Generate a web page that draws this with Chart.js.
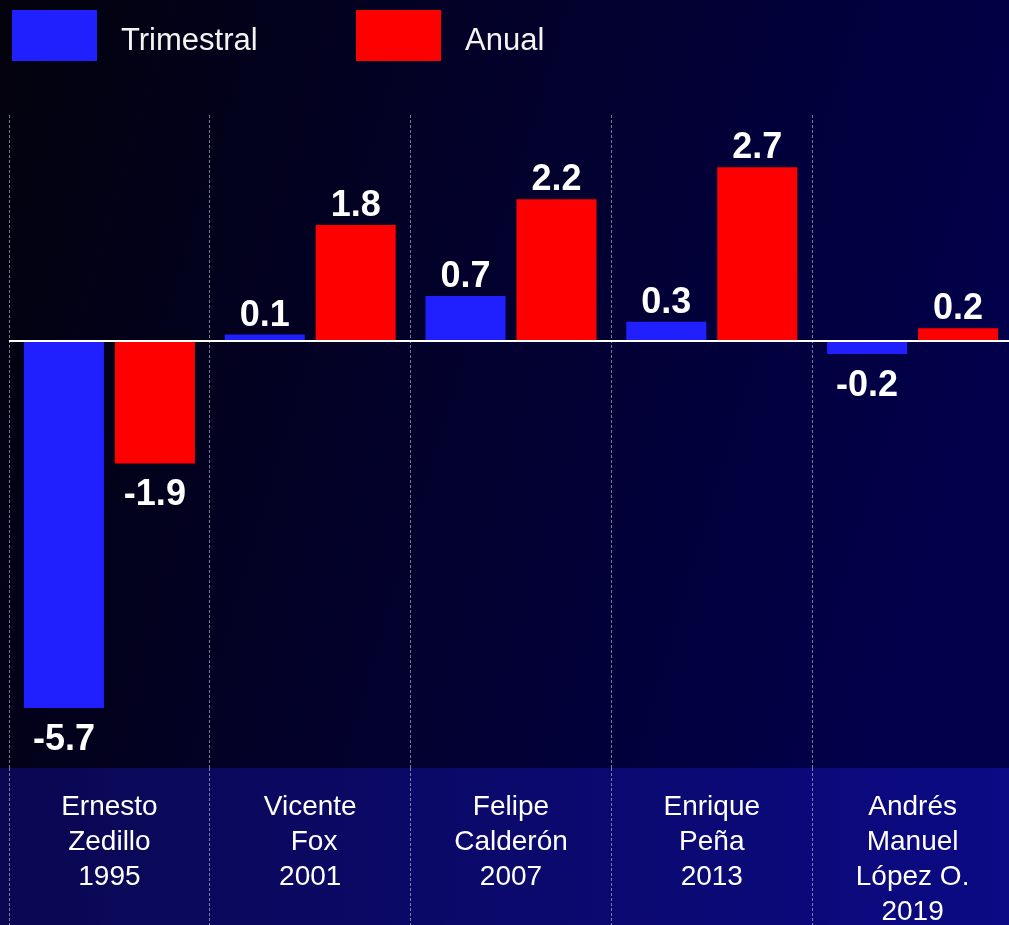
<!DOCTYPE html>
<html>
<head>
<meta charset="utf-8">
<script src="https://cdn.jsdelivr.net/npm/chart.js@4.4.1/dist/chart.umd.min.js"></script>
<style>
    html, body { margin: 0; padding: 0; overflow: hidden; background: #000010; }
    #wrap { width: 1020px; height: 925px; }
</style>
</head>
<body>
<div id="wrap"><canvas id="pib-chart" width="1020" height="925"></canvas></div>
<script>
/*********************************************************************/
/*************************  Datos  ***********************************/
/*********************************************************************/
var presidentes = [
    ['Ernesto', 'Zedillo', '1995'],
    ['Vicente', ' Fox', '2001'],
    ['Felipe', 'Calderón', '2007'],
    ['Enrique', 'Peña', '2013'],
    ['Andrés', 'Manuel', 'López O.', '2019']
];
var trimestral = [-5.7, 0.1, 0.7, 0.3, -0.2];
var anual = [-1.9, 1.8, 2.2, 2.7, 0.2];
var nombresSeries = ['Trimestral', 'Anual'];

var AZUL = '#2020ff', ROJO = '#ff0000';
var FUENTE = "'Liberation Sans', Arial, sans-serif";
var GRIS = 'rgba(200, 200, 215, 0.6)';

// Fondo degradado + franja de categorias
var fondoPlugin = {
    id: 'fondo',
    beforeDraw: function(chart) {
        var ctx = chart.ctx, w = chart.width, h = chart.height;
        ctx.save();
        var g = ctx.createLinearGradient(0, 0, 1009, 300);
        g.addColorStop(0, '#03020c');
        g.addColorStop(1, '#02004a');
        ctx.fillStyle = g;
        ctx.fillRect(0, 0, w, h);
        var top = chart.chartArea.bottom;
        var g2 = ctx.createLinearGradient(0, 0, 1009, 0);
        g2.addColorStop(0, '#0a0852');
        g2.addColorStop(1, '#0c0a84');
        ctx.fillStyle = g2;
        ctx.fillRect(0, top, w, h - top);
        ctx.restore();
    }
};

// Leyenda dibujada a mano (cajas grandes)
var leyendaPlugin = {
    id: 'leyenda',
    afterDraw: function(chart) {
        var ctx = chart.ctx;
        var cajas = [12, 356];
        ctx.save();
        ctx.font = '31px ' + FUENTE;
        ctx.textBaseline = 'alphabetic';
        chart.data.datasets.forEach(function(ds, i) {
            ctx.fillStyle = ds.backgroundColor;
            ctx.fillRect(cajas[i], 10, 85, 51);
            ctx.fillStyle = '#f4f4f4';
            ctx.fillText(ds.label, cajas[i] + 109, 50);
        });
        ctx.restore();
    }
};

// Etiquetas de valor sobre/bajo cada barra
var etiquetasPlugin = {
    id: 'etiquetas',
    afterDatasetsDraw: function(chart) {
        var ctx = chart.ctx;
        ctx.save();
        ctx.font = 'bold 36px ' + FUENTE;
        ctx.fillStyle = '#ffffff';
        ctx.textAlign = 'center';
        ctx.textBaseline = 'alphabetic';
        chart.data.datasets.forEach(function(ds, i) {
            var meta = chart.getDatasetMeta(i);
            meta.data.forEach(function(bar, j) {
                var v = ds.data[j];
                var y = v >= 0 ? bar.y - 9 : bar.y + 42;
                ctx.fillText(v.toFixed(1), bar.x, y);
            });
        });
        ctx.restore();
    }
};

var ctx = document.getElementById('pib-chart');
var pibChart = new Chart(ctx, {
    type: 'bar',
    data: {
        labels: presidentes,
        datasets: [
            { label: nombresSeries[0], data: trimestral, backgroundColor: AZUL },
            { label: nombresSeries[1], data: anual, backgroundColor: ROJO }
        ]
    },
    options: {
        responsive: false,
        animation: false,
        devicePixelRatio: 1,
        categoryPercentage: 0.906,
        barPercentage: 0.88,
        layout: { padding: { top: 115, left: 9, right: 7, bottom: 0 } },
        plugins: {
            legend: { display: false },
            tooltip: { enabled: false }
        },
        scales: {
            x: {
                offset: true,
                afterFit: function(scale) { scale.height = 157; },
                border: { display: false, dash: [3, 2] },
                grid: {
                    offset: true,
                    color: GRIS,
                    lineWidth: 1,
                    tickLength: 157,
                    tickColor: GRIS,
                    tickBorderDash: [3, 2]
                },
                ticks: {
                    color: '#ffffff',
                    font: { family: FUENTE, size: 28, lineHeight: 1.25 },
                    padding: -135,
                    maxRotation: 0,
                    autoSkip: false
                }
            },
            y: {
                min: -6.63,
                max: 3.51,
                z: 1,
                border: { display: false },
                ticks: { display: false },
                grid: {
                    drawTicks: false,
                    lineWidth: 2,
                    color: function(c) {
                        return (c.tick && c.tick.value === 0) ? '#ffffff' : 'rgba(0,0,0,0)';
                    }
                }
            }
        }
    },
    plugins: [fondoPlugin, etiquetasPlugin, leyendaPlugin]
});
</script>
</body>
</html>
